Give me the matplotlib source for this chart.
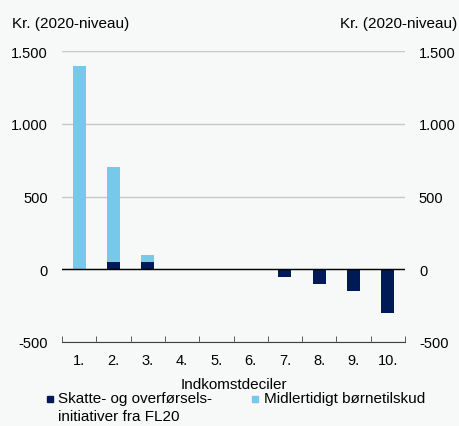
import matplotlib.pyplot as plt
from matplotlib.patches import Rectangle
import numpy as np

plt.rcParams['font.family'] = ['Liberation Sans', 'DejaVu Sans']

deciles = ['1.', '2.', '3.', '4.', '5.', '6.', '7.', '8.', '9.', '10.']
skat = [0, 50, 50, 0, 0, 0, -50, -100, -150, -300]
boernetilskud = [1400, 650, 50, 0, 0, 0, 0, 0, 0, 0]
labels = ['Skatte- og overførsels-\ninitiativer fra FL20', 'Midlertidigt børnetilskud']

dark = '#001a57'
light = '#76c9e8'
bg = '#f7f8f8'

fig = plt.figure(figsize=(4.6, 4.27), dpi=100, facecolor=bg)
ax = fig.add_axes([62 / 460, 1 - 343 / 427, 343 / 460, 291 / 427], facecolor=bg)

x = np.arange(len(deciles))
ax.bar(x, skat, width=0.38, color=dark, zorder=3)
ax.bar(x, boernetilskud, width=0.38, bottom=np.maximum(skat, 0), color=light, zorder=3)

ax.set_xlim(-0.5, 9.5)
ax.set_ylim(-500, 1500)
ticks = [-500, 0, 500, 1000, 1500]
ticklabels = ['-500', '0', '500', '1.000', '1.500']
ax.set_yticks(ticks)
ax.set_yticklabels(ticklabels)
ax.yaxis.grid(True, color='#c8c8c8', linewidth=1, zorder=0)
ax.axhline(0, color='black', linewidth=1, zorder=4)

for s in ['top', 'right', 'left']:
    ax.spines[s].set_visible(False)
ax.spines['bottom'].set_color('#404040')

ax.set_xticks(x)
ax.set_xticklabels(deciles, fontsize=10.5)
ax.tick_params(axis='x', length=0, pad=8)
ax.set_xticks(np.arange(-0.5, 10, 1), minor=True)
ax.tick_params(axis='x', which='minor', direction='in', length=4, color='#404040')
ax.tick_params(axis='y', length=0, labelsize=10.5, pad=10)

ax2 = ax.twinx()
ax2.set_ylim(ax.get_ylim())
ax2.set_yticks(ticks)
ax2.set_yticklabels(ticklabels)
ax2.tick_params(axis='y', length=0, labelsize=10.5, pad=10)
for s in ax2.spines.values():
    s.set_visible(False)

fig.text(12 / 460, 1 - 24 / 427, 'Kr. (2020-niveau)', fontsize=11, va='center', ha='left')
fig.text(457 / 460, 1 - 24 / 427, 'Kr. (2020-niveau)', fontsize=11, va='center', ha='right')
fig.text(234 / 460, 1 - 385 / 427, 'Indkomstdeciler', fontsize=11, va='center', ha='center')

# legend, drawn by hand so the markers line up with the first text line
for (sx, tx), lab, col in zip([(47, 58), (252, 264)], labels, [dark, light]):
    fig.patches.append(Rectangle((sx / 460, 1 - 403 / 427), 6 / 460, 6 / 427,
                                 transform=fig.transFigure, color=col, figure=fig))
    fig.text(tx / 460, 1 - 392 / 427, lab, fontsize=11, va='top', ha='left', linespacing=1.4)

fig.savefig('out.png', dpi=100, facecolor=bg)
